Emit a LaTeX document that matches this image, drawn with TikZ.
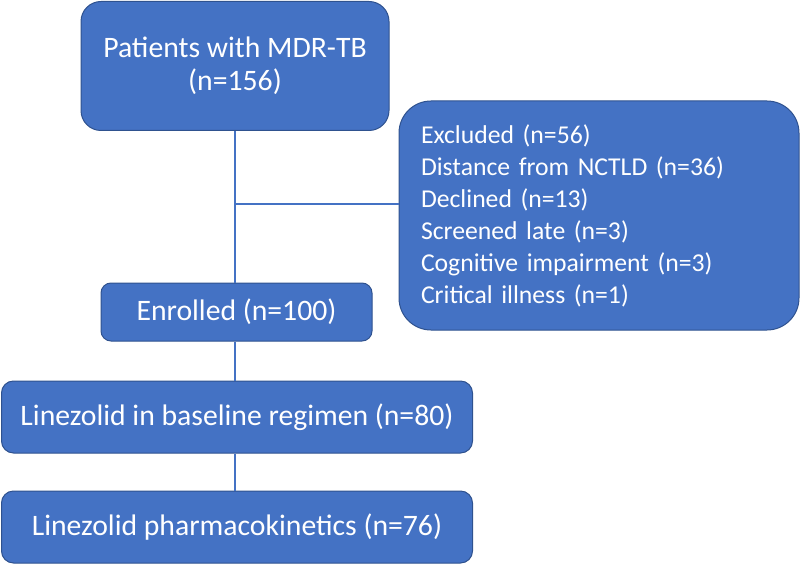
\documentclass[tikz,border=0pt]{standalone}
\usepackage{fontspec}
\setmainfont{Carlito}
\definecolor{boxfill}{HTML}{4472C4}
\definecolor{boxedge}{HTML}{2F528F}
\begin{document}
\begin{tikzpicture}[x=1pt,y=-1pt,
  flowbox/.style={draw=boxedge,line width=1pt,fill=boxfill,text=white,
    font=\fontsize{29.7}{33}\selectfont,inner sep=0pt,align=center},
  link/.style={draw=boxfill,line width=1.5pt}]
\useasboundingbox (0,0) rectangle (800,564);
\node[flowbox,rounded corners=20pt,minimum width=308pt,minimum height=129pt] (pat) at (235,66) {Patients with MDR-TB\\(n=156)};
\node[flowbox,rounded corners=32pt,minimum width=400pt,minimum height=229pt,align=left,text width=356pt,inner xsep=22pt,font=\fontsize{25.7}{32}\selectfont] (exc) at (599,215.5) {Excluded (n=56)\\Distance from NCTLD (n=36)\\Declined (n=13)\\Screened late (n=3)\\Cognitive impairment (n=3)\\Critical illness (n=1)};
\node[flowbox,rounded corners=10pt,minimum width=271pt,minimum height=58pt] (enr) at (236.5,312) {Enrolled (n=100)};
\node[flowbox,rounded corners=12pt,minimum width=471pt,minimum height=72pt] (lzd) at (237,417) {Linezolid in baseline regimen (n=80)};
\node[flowbox,rounded corners=12pt,minimum width=471pt,minimum height=72pt] (pk) at (237,527) {Linezolid pharmacokinetics (n=76)};
\coordinate (j) at (235,204);
\draw[link] (pat.south -| j) -- (enr.north -| j);
\draw[link] (j) -- (j -| exc.west);
\draw[link] (enr.south -| j) -- (lzd.north -| j);
\draw[link] (lzd.south -| j) -- (pk.north -| j);
\end{tikzpicture}
\end{document}
